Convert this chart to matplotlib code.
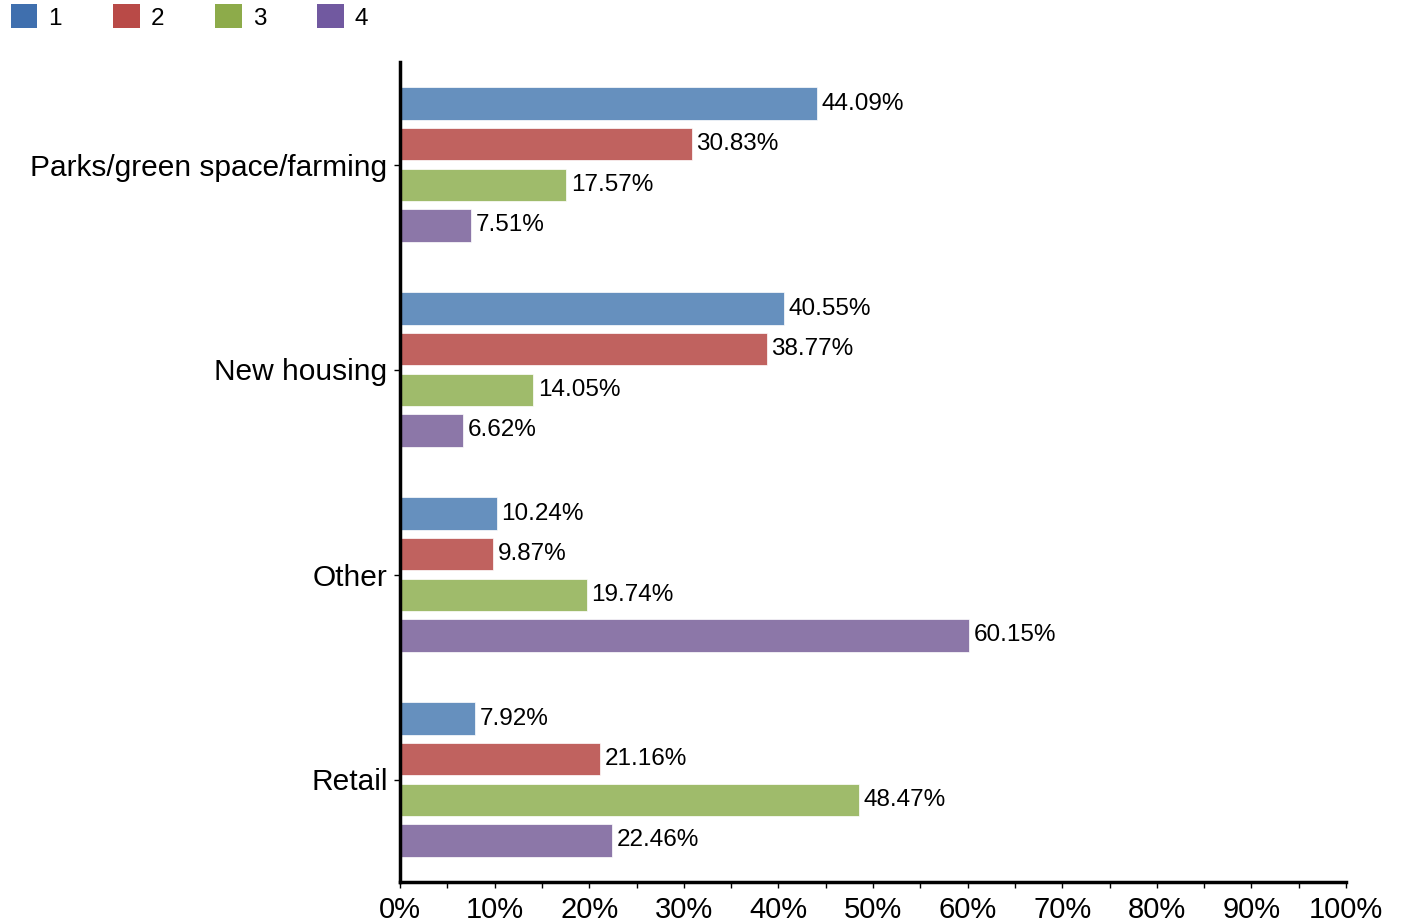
import numpy as np
import matplotlib.pyplot as plt
from matplotlib.patches import Patch
from matplotlib.ticker import MultipleLocator, PercentFormatter

plt.rcParams['font.family'] = ['Liberation Sans', 'DejaVu Sans']

categories = ['Parks/green space/farming', 'New housing', 'Other', 'Retail']
series_names = ['1', '2', '3', '4']
s1 = [44.09, 40.55, 10.24, 7.92]
s2 = [30.83, 38.77, 9.87, 21.16]
s3 = [17.57, 14.05, 19.74, 48.47]
s4 = [7.51, 6.62, 60.15, 22.46]

bar_colors = ['#6690be', '#c0625f', '#9fbb6b', '#8c77a8']
legend_colors = ['#3f6fae', '#b94a47', '#8dab4a', '#7159a0']

fig = plt.figure(figsize=(14.03, 9.24), dpi=100)
ax = fig.add_axes([400 / 1403, 42 / 924, 946 / 1403, 820 / 924])

y = np.arange(len(categories))
step = 0.198
height = 0.158
for i, vals in enumerate([s1, s2, s3, s4]):
    pos = y + (i - 1.5) * step
    ax.barh(pos, vals, height=height, color=bar_colors[i], edgecolor='white', linewidth=0.5)
    for p, v in zip(pos, vals):
        ax.text(v + 0.5, p, f'{v:.2f}%', va='center', ha='left', fontsize=17.5)

ax.set_ylim(3.5, -0.5)
ax.set_xlim(0, 100)
ax.set_yticks(y)
ax.set_yticklabels(categories, fontsize=21.5)
ax.xaxis.set_major_locator(MultipleLocator(10))
ax.xaxis.set_minor_locator(MultipleLocator(5))
ax.xaxis.set_major_formatter(PercentFormatter(decimals=0))
ax.tick_params(axis='x', which='both', direction='out', length=4, width=1, labelsize=21, pad=6)
ax.tick_params(axis='y', length=4, width=1, pad=5)

for s in ['top', 'right']:
    ax.spines[s].set_visible(False)
for s in ['left', 'bottom']:
    ax.spines[s].set_linewidth(2.5)

handles = [Patch(facecolor=c, edgecolor='none') for c in legend_colors]
fig.legend(handles, series_names, loc='upper left', bbox_to_anchor=(-0.008, 1.019), ncol=4,
           frameon=False, fontsize=17.5, handlelength=1.1, handleheight=1.15,
           handletextpad=0.45, columnspacing=2.1)

fig.savefig('out.png', dpi=100)
